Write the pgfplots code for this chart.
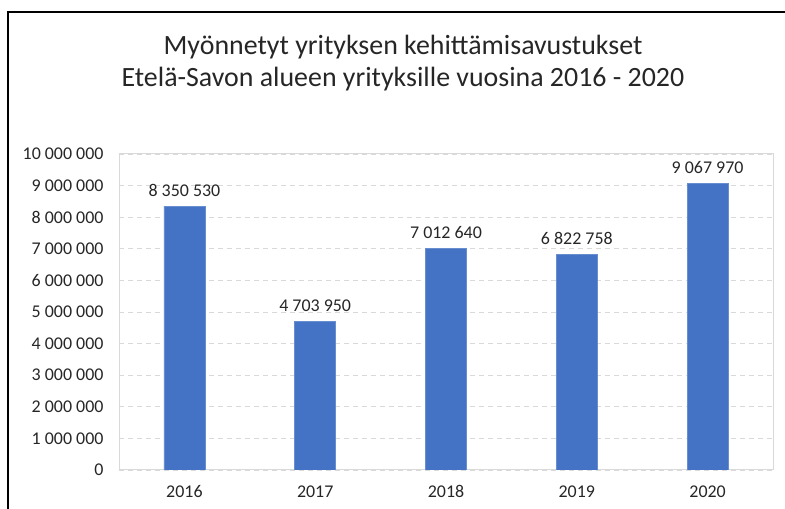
\documentclass[border=0pt]{standalone}
\usepackage{pgfplots}
\pgfplotsset{compat=1.18}
\usepackage{pgfplotstable}
\usepackage{fontspec}
\setmainfont{Carlito}
\definecolor{barblue}{HTML}{4472C4}
\definecolor{gridgray}{HTML}{D9D9D9}
\definecolor{txt}{HTML}{262626}
\pgfplotstableread{
x y label
0 8350530 8~350~530
1 4703950 4~703~950
2 7012640 7~012~640
3 6822758 6~822~758
4 9067970 9~067~970
}\datatable
\begin{document}
\begin{tikzpicture}[x=1bp,y=1bp]
\useasboundingbox (0,0) rectangle (785,509);
\draw[line width=2bp,black] (8,0) -- (8,497) -- (786,497);
\node[txt,font=\fontsize{28}{34}\selectfont] at (403,462) {Myönnetyt yrityksen kehittämisavustukset};
\node[txt,font=\fontsize{28}{34}\selectfont] at (403,430) {Etelä-Savon alueen yrityksille vuosina 2016 - 2020};
\begin{axis}[
  at={(119bp,39bp)}, anchor=south west,
  width=654bp, height=316bp, scale only axis,
  xmin=-0.5, xmax=4.5, ymin=0, ymax=10000000,
  xtick={0,1,2,3,4}, xticklabels={2016,2017,2018,2019,2020},
  ytick={0,1000000,2000000,3000000,4000000,5000000,6000000,7000000,8000000,9000000,10000000},
  yticklabels={0,1 000 000,2 000 000,3 000 000,4 000 000,5 000 000,6 000 000,7 000 000,8 000 000,9 000 000,10 000 000},
  /pgf/number format/assume math mode=true,
  scaled y ticks=false,
  major tick length=0pt,
  ymajorgrids, grid style={gridgray, line width=0.8bp, dash pattern=on 5bp off 4bp},
  axis line style={gridgray, line width=1bp},
  ticklabel style={txt, font=\fontsize{18}{21}\selectfont},
  yticklabel style={xshift=-12bp},
  xticklabel style={text height=12bp, text depth=0bp, yshift=-12bp},
  ybar, bar width=41bp,
]
\addplot[fill=barblue, draw=barblue!80!white, line width=0.5bp,
  nodes near coords, point meta=explicit symbolic,
  every node near coord/.append style={txt, font=\fontsize{18}{21}\selectfont, yshift=6bp}]
  table[x=x, y=y, meta=label] {\datatable};
\end{axis}
\end{tikzpicture}
\end{document}
